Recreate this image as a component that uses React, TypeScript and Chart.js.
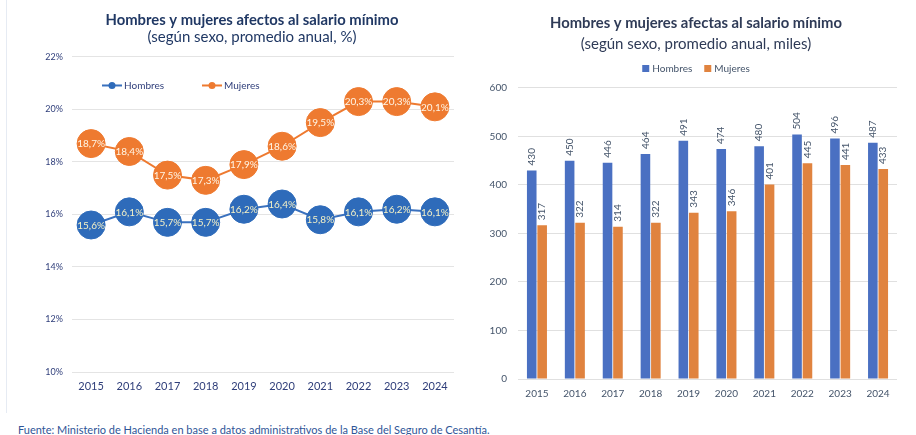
import React, { useEffect, useRef } from "react";
import { Chart, registerables } from "chart.js";

Chart.register(...registerables);

const YEARS = ["2015", "2016", "2017", "2018", "2019", "2020", "2021", "2022", "2023", "2024"];
const PCT_HOMBRES = [15.6, 16.1, 15.7, 15.7, 16.2, 16.4, 15.8, 16.1, 16.2, 16.1];
const PCT_MUJERES = [18.7, 18.4, 17.5, 17.3, 17.9, 18.6, 19.5, 20.3, 20.3, 20.1];
const MILES_HOMBRES = [430, 450, 446, 464, 491, 474, 480, 504, 496, 487];
const MILES_MUJERES = [317, 322, 314, 322, 343, 346, 401, 445, 441, 433];
const SERIES_NAMES = ["Hombres", "Mujeres"];

const LEFT_TITLE = "Hombres y mujeres afectos al salario mínimo";
const LEFT_SUBTITLE = "(según sexo, promedio anual, %)";
const RIGHT_TITLE = "Hombres y mujeres afectas al salario mínimo";
const RIGHT_SUBTITLE = "(según sexo, promedio anual, miles)";
const SOURCE = "Fuente: Ministerio de Hacienda en base a datos administrativos de la Base del Seguro de Cesantía.";

const FONT = "Lato, 'Noto Sans', sans-serif";
const BLUE_PT = "#2E6BBA";
const ORANGE_PT = "#EE7A30";
const BLUE_BAR = "#4A70C2";
const ORANGE_BAR = "#E0833F";

const fmtPct = (v: number) => v.toFixed(1).replace(".", ",") + "%";

const spacerAxis = (position: string, width: number) => ({
  type: "linear",
  position,
  display: true,
  grid: { display: false, drawTicks: false },
  border: { display: false },
  ticks: { display: false },
  afterFit: (s: any) => {
    s.width = width;
  },
});

const pointLabels = {
  id: "pointLabels",
  afterDatasetsDraw(chart: any) {
    const ctx = chart.ctx;
    const colors = ["#F4F1C6", "#FFF6E6"];
    chart.data.datasets.forEach((ds: any, di: number) => {
      const meta = chart.getDatasetMeta(di);
      ctx.save();
      ctx.font = `10px ${FONT}`;
      ctx.fillStyle = colors[di];
      ctx.textAlign = "center";
      ctx.textBaseline = "middle";
      meta.data.forEach((el: any, i: number) => {
        ctx.fillText(fmtPct(ds.data[i]), el.x, el.y + 0.5);
      });
      ctx.restore();
    });
  },
};

const lineLegend = {
  id: "lineLegend",
  afterDraw(chart: any) {
    const ctx = chart.ctx;
    const area = chart.chartArea;
    const y = area.top + 28.5;
    let x = area.left + 30;
    ctx.save();
    ctx.font = `10px ${FONT}`;
    ctx.textBaseline = "middle";
    chart.data.datasets.forEach((ds: any) => {
      ctx.strokeStyle = ds.borderColor;
      ctx.lineWidth = 2;
      ctx.beginPath();
      ctx.moveTo(x, y);
      ctx.lineTo(x + 20, y);
      ctx.stroke();
      ctx.fillStyle = ds.pointBackgroundColor;
      ctx.beginPath();
      ctx.arc(x + 10, y, 3.5, 0, Math.PI * 2);
      ctx.fill();
      ctx.fillStyle = "#2F3E7A";
      ctx.textAlign = "left";
      ctx.fillText(ds.label, x + 22, y);
      x += 100;
    });
    ctx.restore();
  },
};

const barLabels = {
  id: "barLabels",
  afterDatasetsDraw(chart: any) {
    const ctx = chart.ctx;
    chart.data.datasets.forEach((ds: any, di: number) => {
      const meta = chart.getDatasetMeta(di);
      meta.data.forEach((el: any, i: number) => {
        ctx.save();
        ctx.font = `10px ${FONT}`;
        ctx.fillStyle = "#44546A";
        ctx.translate(el.x, el.y - 5);
        ctx.rotate(-Math.PI / 2);
        ctx.textAlign = "left";
        ctx.textBaseline = "middle";
        ctx.fillText(String(ds.data[i]), 0, 0);
        ctx.restore();
      });
    });
  },
};

const boxLegend = {
  id: "boxLegend",
  afterDraw(chart: any) {
    const ctx = chart.ctx;
    const y = 68.5;
    ctx.save();
    ctx.font = `10px ${FONT}`;
    ctx.textBaseline = "middle";
    const items = chart.data.datasets.map((ds: any) => ({
      label: ds.label,
      color: ds.backgroundColor,
      w: ctx.measureText(ds.label).width,
    }));
    const sq = 7;
    const gap = 3;
    const spacing = 12;
    const total = items.reduce((s: number, it: any) => s + sq + gap + it.w, 0) + spacing * (items.length - 1);
    const cx = chart.width / 2;
    let x = cx - total / 2;
    items.forEach((it: any) => {
      ctx.fillStyle = it.color;
      ctx.fillRect(x, y - sq / 2, sq, sq);
      ctx.fillStyle = "#44546A";
      ctx.textAlign = "left";
      ctx.fillText(it.label, x + sq + gap, y);
      x += sq + gap + it.w + spacing;
    });
    ctx.restore();
  },
};

function LineChart() {
  const ref = useRef<HTMLCanvasElement>(null);
  useEffect(() => {
    if (!ref.current) return;
    const chart = new Chart(ref.current, {
      type: "line",
      data: {
        labels: YEARS,
        datasets: [
          {
            label: SERIES_NAMES[0],
            data: PCT_HOMBRES,
            borderColor: "#3A71BE",
            borderWidth: 2,
            pointRadius: 14,
            pointHoverRadius: 14,
            pointBackgroundColor: BLUE_PT,
            pointBorderColor: BLUE_PT,
            pointBorderWidth: 1,
          },
          {
            label: SERIES_NAMES[1],
            data: PCT_MUJERES,
            borderColor: "#EE7A30",
            borderWidth: 2,
            pointRadius: 14,
            pointHoverRadius: 14,
            pointBackgroundColor: ORANGE_PT,
            pointBorderColor: ORANGE_PT,
            pointBorderWidth: 1,
          },
        ],
      },
      options: {
        animation: false,
        responsive: false,
        maintainAspectRatio: false,
        layout: { padding: 0 },
        scales: {
          x: {
            offset: true,
            grid: { display: false, drawTicks: false, offset: true },
            border: { display: false },
            ticks: { font: { family: FONT, size: 11 }, color: "#2F3E7A", padding: 8 },
            afterFit: (s: any) => {
              s.height = 28;
            },
          },
          y: {
            position: "left",
            min: 10,
            max: 22,
            ticks: {
              stepSize: 2,
              callback: (v: any) => v + "%",
              font: { family: FONT, size: 9 },
              color: "#2F3E7A",
              padding: 9,
            },
            grid: { color: "#E4E4E4", lineWidth: 1, drawTicks: false },
            border: { display: false },
            afterFit: (s: any) => {
              s.width = 64;
            },
          },
          ySpacer: spacerAxis("right", 42),
        },
        plugins: {
          legend: { display: false },
          tooltip: { enabled: false },
          title: {
            display: true,
            text: LEFT_TITLE,
            color: "#203864",
            font: { family: FONT, size: 14.8, weight: "bold", lineHeight: 1.1 },
            padding: { top: 12.4, bottom: 0 },
          },
          subtitle: {
            display: true,
            text: LEFT_SUBTITLE,
            color: "#203864",
            font: { family: FONT, size: 15, lineHeight: 1.1 },
            padding: { top: 0, bottom: 11.8 },
          },
        },
      } as any,
      plugins: [pointLabels, lineLegend],
    });
    return () => chart.destroy();
  }, []);
  return (
    <canvas
      ref={ref}
      width={488}
      height={400}
      style={{ position: "absolute", left: 8, top: 0, width: 488, height: 400 }}
    />
  );
}

function BarChart() {
  const ref = useRef<HTMLCanvasElement>(null);
  useEffect(() => {
    if (!ref.current) return;
    const chart = new Chart(ref.current, {
      type: "bar",
      data: {
        labels: YEARS,
        datasets: [
          {
            label: SERIES_NAMES[0],
            data: MILES_HOMBRES,
            backgroundColor: BLUE_BAR,
            categoryPercentage: 0.55,
            barPercentage: 0.92,
          },
          {
            label: SERIES_NAMES[1],
            data: MILES_MUJERES,
            backgroundColor: ORANGE_BAR,
            categoryPercentage: 0.55,
            barPercentage: 0.92,
          },
        ],
      },
      options: {
        animation: false,
        responsive: false,
        maintainAspectRatio: false,
        layout: { padding: 0 },
        scales: {
          x: {
            grid: { display: false, drawTicks: false },
            border: { display: false },
            ticks: { font: { family: FONT, size: 10 }, color: "#44546A", padding: 9 },
            afterFit: (s: any) => {
              s.height = 31;
            },
          },
          y: {
            position: "left",
            min: 0,
            max: 600,
            ticks: {
              stepSize: 100,
              font: { family: FONT, size: 10 },
              color: "#44546A",
              padding: 11,
            },
            grid: { color: "#E0E0E0", lineWidth: 1, drawTicks: false },
            border: { display: false },
            afterFit: (s: any) => {
              s.width = 42;
            },
          },
          ySpacer: spacerAxis("right", 19),
        },
        plugins: {
          legend: { display: false },
          tooltip: { enabled: false },
          title: {
            display: true,
            text: RIGHT_TITLE,
            color: "#2F3B57",
            font: { family: FONT, size: 14.8, weight: "bold", lineHeight: 1.1 },
            padding: { top: 15.2, bottom: 0 },
          },
          subtitle: {
            display: true,
            text: RIGHT_SUBTITLE,
            color: "#2F3B57",
            font: { family: FONT, size: 15, lineHeight: 1.1 },
            padding: { top: 4.75, bottom: 35.25 },
          },
        },
      } as any,
      plugins: [barLabels, boxLegend],
    });
    return () => chart.destroy();
  }, []);
  return (
    <canvas
      ref={ref}
      width={440}
      height={410}
      style={{ position: "absolute", left: 476, top: 0, width: 440, height: 410 }}
    />
  );
}

export default function App() {
  return (
    <div
      style={{
        position: "fixed",
        left: 0,
        top: 0,
        width: 916,
        height: 435,
        overflow: "hidden",
        background: "#ffffff",
      }}
    >
      <div
        style={{
          position: "absolute",
          left: 6,
          top: 0,
          width: 1,
          height: 413,
          background: "#E6EBF3",
        }}
      />
      <LineChart />
      <BarChart />
      <div
        style={{
          position: "absolute",
          left: 18,
          top: 423,
          fontFamily: FONT,
          fontSize: 11,
          lineHeight: "14px",
          color: "#2F5597",
          whiteSpace: "nowrap",
        }}
      >
        {SOURCE}
      </div>
    </div>
  );
}
